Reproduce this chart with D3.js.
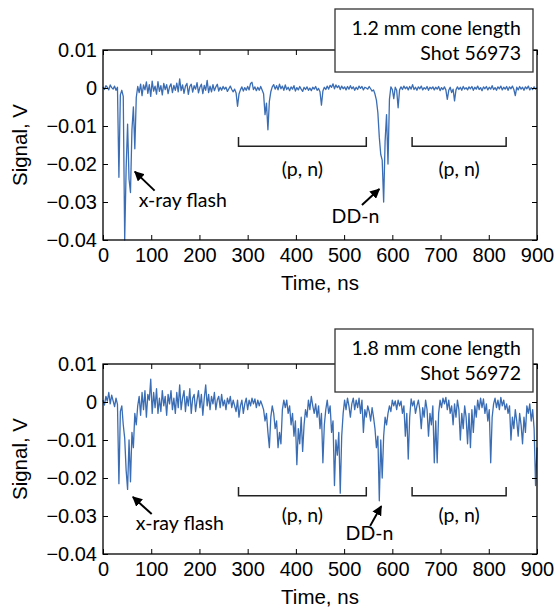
<!DOCTYPE html>
<html>
<head>
<meta charset="utf-8">
<script src="https://cdn.jsdelivr.net/npm/d3@7"></script>
<style>
  body { margin: 0; background: #fff; }
  svg { display: block; }
  .tick text { font-family: "Liberation Sans", Arial, sans-serif; font-size: 20px; fill: #000; }
  .tick line { stroke: #000; stroke-width: 1; }
  .title { font-family: "Liberation Sans", Arial, sans-serif; font-size: 20.5px; fill: #000; }
  .note { font-family: Lato, "Open Sans", sans-serif; font-size: 19.5px; fill: #000; }
</style>
</head>
<body>
<svg id="chart" width="557" height="610"></svg>
<script>
// sampling of the scope traces (ns)
var timeStepNs = 3;
var xTicks = [0, 100, 200, 300, 400, 500, 600, 700, 800, 900];
var yTicks = [0.01, 0, -0.01, -0.02, -0.03, -0.04];
var coneLabels = ["1.2 mm cone length", "1.8 mm cone length"];
var shotLabels = ["Shot 56973", "Shot 56972"];
var pnRangesNs = [[281, 546], [641, 836]];

// signal, in mV, one value every 3 ns from 0 to 900 ns
var signal56973mV = [
  0.3,-0.4,0.6,0.2,-0.5,0.8,0.1,-0.3,0.5,-0.6,0.2,-23.5,-1.8,-0.6,-2.2,-40,-21,-9.5,-24,-27.5,
  -11,-5,-16,-2.5,0.4,-1.2,1.0,-2.0,0.8,-0.5,1.6,-1.4,0.9,-2.2,1.8,-0.8,0.5,-1.6,1.7,-0.9,
  0.6,-1.8,1.2,-0.4,0.9,-1.5,0.3,1.1,-1.2,0.7,-0.6,1.3,-1.0,2.4,-0.7,0.8,-1.4,0.5,1.2,-1.7,
  0.4,1.0,-1.1,0.6,-0.3,1.4,-1.3,0.2,1.0,-1.5,0.7,-0.6,2.0,-1.2,0.5,-1.0,0.9,-0.7,0.3,1.0,
  -0.8,0.2,-0.6,0.4,-0.3,0.2,-0.9,-0.2,0.5,-0.4,-1.0,-0.3,-1.3,-4.8,-1.6,-0.5,0.3,-0.8,0.1,-0.6,
  0.4,-0.5,1.2,1.5,-0.4,0.3,-0.7,0.2,-0.6,0.4,-0.5,-1.5,-7.0,-4.0,-11.0,-3.5,-1.0,0.3,0.9,-0.3,
  0.6,-0.5,1.0,-0.2,0.5,-0.6,0.8,-0.4,0.2,-0.7,0.3,-0.3,0.6,-0.8,0.1,-0.5,0.4,-0.3,-0.9,0.2,
  -0.4,0.3,-0.6,0.0,-0.7,0.2,-0.3,0.4,-0.6,-0.1,-1.0,-4.5,-0.8,0.2,-0.4,0.5,-0.3,0.7,0.2,1.1,
  -0.2,0.8,0.1,0.6,-0.4,0.5,-0.2,0.3,-0.5,0.4,-0.3,0.6,-0.2,0.3,-0.6,0.2,-0.4,0.5,-0.1,0.4,
  -0.5,0.2,0.0,-0.3,0.4,-0.2,-0.8,-0.5,-1.6,-3.2,-6.5,-13,-17.5,-19,-30,-14,-7,-20,-3,0.3,
  -0.4,-2.8,0.2,-0.6,-5.2,-0.5,0.3,-0.4,0.5,-0.2,0.3,-0.5,0.4,-0.3,0.9,-0.4,0.2,-0.6,0.3,-0.2,
  0.5,-0.5,0.1,-0.3,0.4,-0.6,0.2,-0.2,0.3,-0.5,0.2,-0.3,0.4,-0.7,0.1,-0.4,0.3,-0.5,-3.0,-0.6,
  0.2,-1.2,-0.3,-3.4,-0.5,0.3,-0.4,0.2,-0.6,0.4,-0.3,0.1,-0.5,0.3,-0.2,0.4,-0.6,0.2,-0.3,0.5,
  -0.4,0.1,-0.7,0.3,-0.2,0.4,-0.5,0.2,-0.3,0.6,-0.4,0.1,-0.6,0.3,-0.2,0.5,-0.5,0.2,-0.3,0.4,
  -0.6,0.3,-0.2,0.5,-0.4,-2.0,0.2,-0.5,0.4,-0.3,0.2,-0.6,0.3,-0.2,0.5,-0.5,0.1,-0.4,0.3,-0.3,
  0.1
];
var signal56972mV = [
  0.5,-0.8,1.5,0.2,2.5,-0.5,1.8,0.3,-1.2,1.0,-0.6,-21.5,-2.5,-1.0,-6,-9.5,-18,-23,-10,-21,
  -8,-12,-3,-6,-1,1.5,-3.5,2.5,-2,3,-4,2,0.5,6,-3,2.5,-1.5,3.5,-3,1,
  -2.5,3,-1,1.5,-3.5,2,-0.5,3,-2,1,-3,2.5,-1.5,4.5,-2,1,3,-2.5,1.5,-1,
  3.5,-3,1,2,-2.5,0.5,3,-1.5,2,-3.5,1,4.5,-1,2,-2,1.5,-0.5,2.5,-2,0.5,
  1.5,-1.5,2,-1,0.5,-2,1,-0.5,1.5,-1.5,0.5,-1,-2.5,0.5,-4,-1,0.5,-3,-0.5,1,
  -2,0.5,-1,1,-0.5,0.8,-1.5,0.5,-1,0.3,-0.8,-2,-5,-3,-8,-12,-4,-1,-3,-7,
  -5,-12,-8,-11,-2,0.5,-1.5,0.5,-3,-1,-6,-3,-9,-5,-16.5,-7,-11,-4,-13,-6,
  -2,-4,0.5,-2,1.5,-1,-3,-0.5,-4,-1,-7,-3,-16,-6,-2,0.5,-3,-1,-8,-5,
  -22,-10,-14,-8,-24,-9,-3,0.5,-2,1,-1,-4,-0.5,1,-2,0.5,-1.5,1,-3,0.5,
  -8,-2,-4,-1,-2.5,-5,-1.5,-4,-7,-12,-9,-26,-10,-20,-9,-4,-6,-3,-1,-2.5,
  0.5,-1,0.3,-2,0.5,-1,0.2,-3,-1,-9,-3,-15,-4,0.8,-1,0.3,-3,-1,0.5,-2,
  -7,-1.5,-4,0.5,-2,-9,-3,-6,-1,-16,-5,-16,-3,0.5,-1.5,1,-0.5,1.2,-2,0.5,
  -3,-1,-6,-0.5,-4,0.5,-2,-10,-3,-7,-1,-4,-11,-3,-12,-2,-8,-1,-4,0.5,
  -2,1,-1.5,0.8,-3,-0.5,-5,-2,-16,-4,-0.5,1,-1.5,0.5,-2,1.2,-1,0.5,-2,-0.5,
  -3,-1,-10,-4,-7,-2,-5,-9,-3,-6,-11,-4,-8,-1,-3,-0.5,-5,-2,-7,-22,
  -12
];

var panels = [
  { signal: signal56973mV, cone: coneLabels[0], shot: shotLabels[0], top: 50, boxTop: 9,
    xray: { tip: [66, -0.022], tail: [107, -0.027], text: [74, -0.0313] },
    dd: { tip: [573, -0.0266], tail: [537, -0.0308], text: [474, -0.0355] },
    bracketY: [-0.0153, -0.0129], pnTextY: -0.0232 },
  { signal: signal56972mV, cone: coneLabels[1], shot: shotLabels[1], top: 364, boxTop: 329,
    xray: { tip: [62, -0.025], tail: [101, -0.0295], text: [68, -0.0337] },
    dd: { tip: [577, -0.0274], tail: [554, -0.0326], text: [503, -0.0363] },
    bracketY: [-0.0247, -0.0224], pnTextY: -0.0316 }
];

var left = 103, right = 537, plotH = 190;
var svg = d3.select("#chart");

svg.append("defs").append("marker")
  .attr("id", "arrow")
  .attr("viewBox", "0 0 10 10")
  .attr("refX", 9).attr("refY", 5)
  .attr("markerWidth", 5).attr("markerHeight", 5)
  .attr("orient", "auto")
  .append("path").attr("d", "M0,0L10,5L0,10z").attr("fill", "#000");

var x = d3.scaleLinear().domain([0, 900]).range([left, right]);

panels.forEach(function(p) {
  var y = d3.scaleLinear().domain([-0.04, 0.01]).range([p.top + plotH, p.top]);
  var g = svg.append("g");

  var line = d3.line()
    .x(function(d, i) { return x(i * timeStepNs); })
    .y(function(d) { return y(d / 1000); });

  g.append("path")
    .datum(p.signal)
    .attr("d", line)
    .attr("fill", "none")
    .attr("stroke", "#3a6db4")
    .attr("stroke-width", 1.3)
    .attr("stroke-linejoin", "round");

  // axes, ticks pointing inward on every side
  var bottom = g.append("g").attr("transform", "translate(0," + (p.top + plotH) + ")")
    .call(d3.axisBottom(x).tickValues(xTicks).tickSize(-5).tickPadding(8).tickFormat(d3.format("d")));
  var topAx = g.append("g").attr("transform", "translate(0," + p.top + ")")
    .call(d3.axisTop(x).tickValues(xTicks).tickSize(-5).tickFormat(""));
  var leftAx = g.append("g").attr("transform", "translate(" + left + ",0)")
    .call(d3.axisLeft(y).tickValues(yTicks).tickSize(-5).tickPadding(6).tickFormat(function(d) { return d === 0 ? "0" : d3.format(".2f")(d); }));
  var rightAx = g.append("g").attr("transform", "translate(" + right + ",0)")
    .call(d3.axisRight(y).tickValues(yTicks).tickSize(-5).tickFormat(""));
  [bottom, topAx, leftAx, rightAx].forEach(function(a) { a.select(".domain").remove(); });

  g.append("rect")
    .attr("x", left).attr("y", p.top)
    .attr("width", right - left).attr("height", plotH)
    .attr("fill", "none").attr("stroke", "#000").attr("stroke-width", 1.3);

  g.append("text").attr("class", "title")
    .attr("transform", "translate(27," + (p.top + plotH / 2) + ") rotate(-90)")
    .attr("text-anchor", "middle")
    .text("Signal, V");
  g.append("text").attr("class", "title")
    .attr("x", (left + right) / 2).attr("y", p.top + plotH + 50)
    .attr("text-anchor", "middle")
    .text("Time, ns");

  // legend box
  g.append("rect")
    .attr("x", 335).attr("y", p.boxTop).attr("width", 198).attr("height", 63)
    .attr("fill", "#fff").attr("stroke", "#333").attr("stroke-width", 1.3);
  g.append("text").attr("class", "note").attr("text-anchor", "end")
    .attr("x", 521).attr("y", p.boxTop + 26).text(p.cone);
  g.append("text").attr("class", "note").attr("text-anchor", "end")
    .attr("x", 521).attr("y", p.boxTop + 51).text(p.shot);

  // (p, n) brackets
  pnRangesNs.forEach(function(r) {
    var yb = y(p.bracketY[0]), yt = y(p.bracketY[1]);
    g.append("path")
      .attr("d", "M" + x(r[0]) + "," + yt + "V" + yb + "H" + x(r[1]) + "V" + yt)
      .attr("fill", "none").attr("stroke", "#222").attr("stroke-width", 1.5);
    g.append("text").attr("class", "note").attr("text-anchor", "middle")
      .attr("x", x((r[0] + r[1]) / 2)).attr("y", y(p.pnTextY))
      .text("(p, n)");
  });

  // arrows with labels
  [[p.xray, "x-ray flash"], [p.dd, "DD-n"]].forEach(function(a) {
    var n = a[0];
    g.append("line")
      .attr("x1", x(n.tail[0])).attr("y1", y(n.tail[1]))
      .attr("x2", x(n.tip[0])).attr("y2", y(n.tip[1]))
      .attr("stroke", "#000").attr("stroke-width", 2)
      .attr("marker-end", "url(#arrow)");
    g.append("text").attr("class", "note")
      .attr("x", x(n.text[0])).attr("y", y(n.text[1]))
      .text(a[1]);
  });
});
</script>
</body>
</html>
